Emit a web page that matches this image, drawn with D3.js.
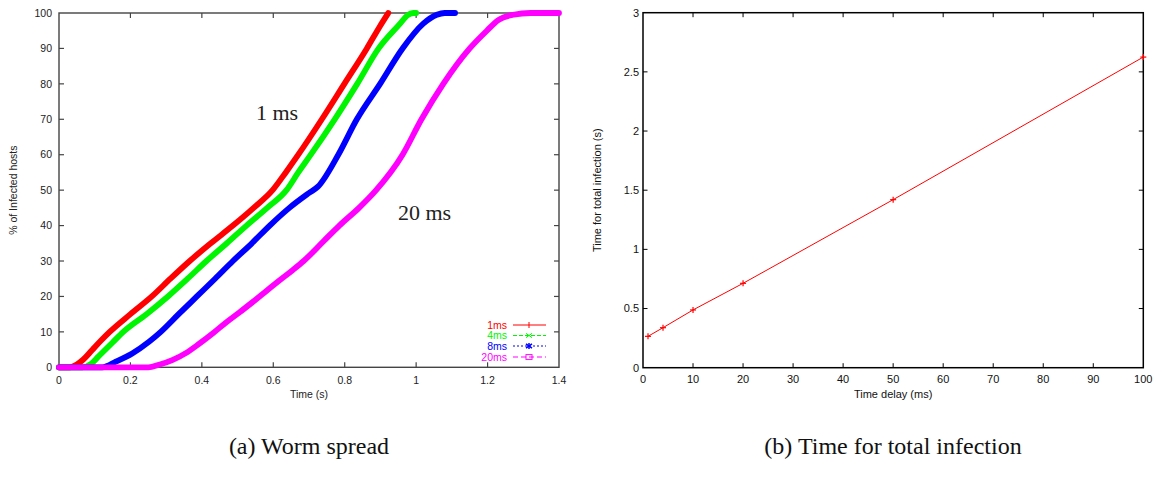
<!DOCTYPE html>
<html>
<head>
<meta charset="utf-8">
<script src="https://cdn.jsdelivr.net/npm/d3@7"></script>
<style>
  html, body { margin: 0; padding: 0; background: #fff; }
  svg { display: block; }
</style>
</head>
<body>
<svg id="chart" width="1167" height="477"></svg>
<script>
// ---------------- DATA ----------------
// (a) Worm spread: time (s) vs % of infected hosts
const seriesNames = ["1ms", "4ms", "8ms", "20ms"];
const seriesColors = ["#ff0000", "#00f500", "#0000ff", "#ff00ff"];

const time1ms = [0, 0.03, 0.05, 0.068, 0.093, 0.117, 0.142, 0.2, 0.26, 0.312, 0.366, 0.425, 0.487, 0.545, 0.598, 0.635, 0.670, 0.736, 0.799, 0.862, 0.9, 0.922];
const pct1ms  = [0, 0, 0.8, 2.2, 4.9, 7.5, 10, 15, 20, 25, 30, 35, 40, 45, 50, 55, 60, 70, 80, 90, 96.5, 100];

const time4ms = [0, 0.065, 0.09, 0.11, 0.15, 0.18, 0.245, 0.305, 0.36, 0.413, 0.47, 0.525, 0.583, 0.637, 0.67, 0.705, 0.772, 0.835, 0.895, 0.955, 0.975, 0.992, 1.0];
const pct4ms  = [0, 0, 1, 3, 7, 10, 15, 20, 25, 30, 35, 40, 45, 50, 55, 60, 70, 80, 90, 97, 99.3, 100, 100];

const time8ms = [0, 0.121, 0.159, 0.205, 0.252, 0.285, 0.335, 0.386, 0.437, 0.487, 0.54, 0.59, 0.645, 0.7, 0.725, 0.782, 0.834, 0.899, 0.962, 1.02, 1.058, 1.08, 1.109];
const pct8ms  = [0, 0, 1.6, 3.9, 7.2, 10, 15, 20, 25, 30, 35, 40, 45, 49.2, 51, 60, 70, 80, 90, 97, 99.5, 100, 100];

const time20ms = [0, 0.25, 0.28, 0.317, 0.355, 0.392, 0.431, 0.467, 0.504, 0.542, 0.579, 0.616, 0.654, 0.685, 0.74, 0.785, 0.84, 0.888, 0.962, 1.015, 1.076, 1.15, 1.198, 1.23, 1.272, 1.32, 1.4];
const pct20ms  = [0, 0, 0.7, 2, 4, 6.6, 9.6, 12.6, 15.4, 18.4, 21.4, 24.4, 27.4, 30, 35.5, 40, 45, 50, 60, 70, 80, 90, 95, 98, 99.5, 100, 100];

const spreadTimes = [time1ms, time4ms, time8ms, time20ms];
const spreadPcts = [pct1ms, pct4ms, pct8ms, pct20ms];

const leftXTicks = [0, 0.2, 0.4, 0.6, 0.8, 1, 1.2, 1.4];
const leftYTicks = [0, 10, 20, 30, 40, 50, 60, 70, 80, 90, 100];

// (b) Time for total infection vs time delay
const delays = [1, 4, 10, 20, 50, 100];
const totalTime = [0.265, 0.338, 0.488, 0.713, 1.42, 2.625];
const rightXTicks = [0, 10, 20, 30, 40, 50, 60, 70, 80, 90, 100];
const rightYTicks = [0, 0.5, 1, 1.5, 2, 2.5, 3];

// ---------------- DRAW ----------------
const svg = d3.select("#chart");

// ===== Left chart =====
const L = { x0: 59, x1: 559, y0: 367.3, y1: 13 };
const lx = d3.scaleLinear().domain([0, 1.4]).range([L.x0, L.x1]);
const ly = d3.scaleLinear().domain([0, 100]).range([L.y0, L.y1]);
const gL = svg.append("g");
const leftAxisColor = "#444";
const leftFont = "'Liberation Sans', Arial, sans-serif";

// frame
gL.append("rect").attr("x", L.x0).attr("y", L.y1)
  .attr("width", L.x1 - L.x0).attr("height", L.y0 - L.y1)
  .attr("fill", "none").attr("stroke", leftAxisColor).attr("stroke-width", 1.4);

// ticks (inward, all sides)
const tk = 5;
leftXTicks.forEach(v => {
  if (v === 0 || v === 1.4) return;
  gL.append("line").attr("x1", lx(v)).attr("x2", lx(v)).attr("y1", L.y0).attr("y2", L.y0 - tk).attr("stroke", leftAxisColor).attr("stroke-width", 1.2);
  gL.append("line").attr("x1", lx(v)).attr("x2", lx(v)).attr("y1", L.y1).attr("y2", L.y1 + tk).attr("stroke", leftAxisColor).attr("stroke-width", 1.2);
});
leftYTicks.forEach(v => {
  if (v === 0 || v === 100) return;
  gL.append("line").attr("x1", L.x0).attr("x2", L.x0 + tk).attr("y1", ly(v)).attr("y2", ly(v)).attr("stroke", leftAxisColor).attr("stroke-width", 1.2);
  gL.append("line").attr("x1", L.x1).attr("x2", L.x1 - tk).attr("y1", ly(v)).attr("y2", ly(v)).attr("stroke", leftAxisColor).attr("stroke-width", 1.2);
});
// tick labels
gL.selectAll(".lxl").data(leftXTicks).enter().append("text")
  .attr("x", d => lx(d)).attr("y", 384).attr("text-anchor", "middle")
  .attr("font-family", leftFont).attr("font-size", 10.5).attr("fill", "#222")
  .text(d => d3.format("~g")(d));
gL.selectAll(".lyl").data(leftYTicks).enter().append("text")
  .attr("x", 52).attr("y", d => ly(d)).attr("dy", "0.35em").attr("text-anchor", "end")
  .attr("font-family", leftFont).attr("font-size", 10.5).attr("fill", "#222")
  .text(d => d);
// axis titles
gL.append("text").attr("x", (L.x0 + L.x1) / 2).attr("y", 397.5).attr("text-anchor", "middle")
  .attr("font-family", leftFont).attr("font-size", 10.5).attr("fill", "#222").text("Time (s)");
gL.append("text").attr("transform", `translate(16.5,${(L.y0 + L.y1) / 2}) rotate(-90)`)
  .attr("text-anchor", "middle").attr("font-family", leftFont).attr("font-size", 10.5).attr("fill", "#222")
  .text("% of Infected hosts");

// curves
const lineL = d3.line().x(d => lx(d[0])).y(d => ly(d[1])).curve(d3.curveMonotoneX);
spreadTimes.forEach((ts, i) => {
  const pts = ts.map((t, j) => [t, spreadPcts[i][j]]);
  gL.append("path").datum(pts).attr("d", lineL)
    .attr("fill", "none").attr("stroke", seriesColors[i]).attr("stroke-width", 5.8)
    .attr("stroke-linejoin", "round").attr("stroke-linecap", "round");
});

// annotations
const serif = "'Liberation Serif', 'Times New Roman', serif";
gL.append("text").attr("x", 256).attr("y", 120).attr("font-family", serif).attr("font-size", 22).attr("fill", "#222").text("1 ms");
gL.append("text").attr("x", 398).attr("y", 219.5).attr("font-family", serif).attr("font-size", 22).attr("fill", "#222").text("20 ms");

// legend
const legY = [325, 335.5, 346, 357];
const dashes = [null, "4,2", "2,2", "5,3"];
seriesNames.forEach((n, i) => {
  const y = legY[i];
  gL.append("text").attr("x", 507).attr("y", y).attr("dy", "0.35em").attr("text-anchor", "end")
    .attr("font-family", leftFont).attr("font-size", 10.5).attr("fill", seriesColors[i]).text(n);
  gL.append("line").attr("x1", 513).attr("x2", 546).attr("y1", y).attr("y2", y)
    .attr("stroke", seriesColors[i]).attr("stroke-width", 1).attr("stroke-dasharray", dashes[i]);
  const mx = 529, s = 3;
  const c = seriesColors[i];
  const m = gL.append("g").attr("stroke", c).attr("stroke-width", 1).attr("fill", "none");
  if (i === 0) {
    m.append("line").attr("x1", mx).attr("x2", mx).attr("y1", y - s).attr("y2", y + s);
  } else if (i === 1) {
    m.append("line").attr("x1", mx - s).attr("x2", mx + s).attr("y1", y - s * 0.7).attr("y2", y + s * 0.7);
    m.append("line").attr("x1", mx - s).attr("x2", mx + s).attr("y1", y + s * 0.7).attr("y2", y - s * 0.7);
  } else if (i === 2) {
    m.append("line").attr("x1", mx).attr("x2", mx).attr("y1", y - s).attr("y2", y + s).attr("stroke-width", 1.5);
    m.append("line").attr("x1", mx - s).attr("x2", mx + s).attr("y1", y - s * 0.7).attr("y2", y + s * 0.7).attr("stroke-width", 1.5);
    m.append("line").attr("x1", mx - s).attr("x2", mx + s).attr("y1", y + s * 0.7).attr("y2", y - s * 0.7).attr("stroke-width", 1.5);
  } else {
    m.append("rect").attr("x", mx - s).attr("y", y - s * 0.8).attr("width", 2 * s).attr("height", 1.6 * s);
  }
});

// ===== Right chart =====
const R = { x0: 643, x1: 1143.3, y0: 367.7, y1: 12.7 };
const rx = d3.scaleLinear().domain([0, 100]).range([R.x0, R.x1]);
const ry = d3.scaleLinear().domain([0, 3]).range([R.y0, R.y1]);
const gR = svg.append("g");
const rFont = "'Liberation Sans', Arial, sans-serif";

gR.append("rect").attr("x", R.x0).attr("y", R.y1)
  .attr("width", R.x1 - R.x0).attr("height", R.y0 - R.y1)
  .attr("fill", "none").attr("stroke", "#000").attr("stroke-width", 1.5);
const rtk = 4.5;
rightXTicks.forEach(v => {
  if (v === 0 || v === 100) return;
  gR.append("line").attr("x1", rx(v)).attr("x2", rx(v)).attr("y1", R.y0).attr("y2", R.y0 - rtk).attr("stroke", "#000");
  gR.append("line").attr("x1", rx(v)).attr("x2", rx(v)).attr("y1", R.y1).attr("y2", R.y1 + rtk).attr("stroke", "#000");
});
rightYTicks.forEach(v => {
  if (v === 0 || v === 3) return;
  gR.append("line").attr("x1", R.x0).attr("x2", R.x0 + rtk).attr("y1", ry(v)).attr("y2", ry(v)).attr("stroke", "#000");
  gR.append("line").attr("x1", R.x1).attr("x2", R.x1 - rtk).attr("y1", ry(v)).attr("y2", ry(v)).attr("stroke", "#000");
});
gR.selectAll(".rxl").data(rightXTicks).enter().append("text")
  .attr("x", d => rx(d)).attr("y", 383).attr("text-anchor", "middle")
  .attr("font-family", rFont).attr("font-size", 11).attr("fill", "#111").text(d => d);
gR.selectAll(".ryl").data(rightYTicks).enter().append("text")
  .attr("x", 639).attr("y", d => ry(d)).attr("dy", "0.35em").attr("text-anchor", "end")
  .attr("font-family", rFont).attr("font-size", 11).attr("fill", "#111").text(d => d);
gR.append("text").attr("x", (R.x0 + R.x1) / 2).attr("y", 398).attr("text-anchor", "middle")
  .attr("font-family", rFont).attr("font-size", 11).attr("fill", "#111").text("Time delay (ms)");
gR.append("text").attr("transform", `translate(601,${(R.y0 + R.y1) / 2}) rotate(-90)`)
  .attr("text-anchor", "middle").attr("font-family", rFont).attr("font-size", 11).attr("fill", "#111")
  .text("Time for total infection (s)");

const rPts = delays.map((d, i) => [d, totalTime[i]]);
gR.append("path").datum(rPts)
  .attr("d", d3.line().x(d => rx(d[0])).y(d => ry(d[1])))
  .attr("fill", "none").attr("stroke", "#ff0000").attr("stroke-width", 1);
rPts.forEach(p => {
  const cx = rx(p[0]), cy = ry(p[1]), s = 3;
  gR.append("line").attr("x1", cx - s).attr("x2", cx + s).attr("y1", cy).attr("y2", cy).attr("stroke", "#ff0000").attr("stroke-width", 1.2);
  gR.append("line").attr("x1", cx).attr("x2", cx).attr("y1", cy - s).attr("y2", cy + s).attr("stroke", "#ff0000").attr("stroke-width", 1.2);
});

// ===== Captions =====
svg.append("text").attr("x", 309).attr("y", 454).attr("text-anchor", "middle")
  .attr("font-family", serif).attr("font-size", 24).attr("fill", "#111").text("(a) Worm spread");
svg.append("text").attr("x", 893).attr("y", 454).attr("text-anchor", "middle")
  .attr("font-family", serif).attr("font-size", 24).attr("fill", "#111").text("(b) Time for total infection");
</script>
</body>
</html>
